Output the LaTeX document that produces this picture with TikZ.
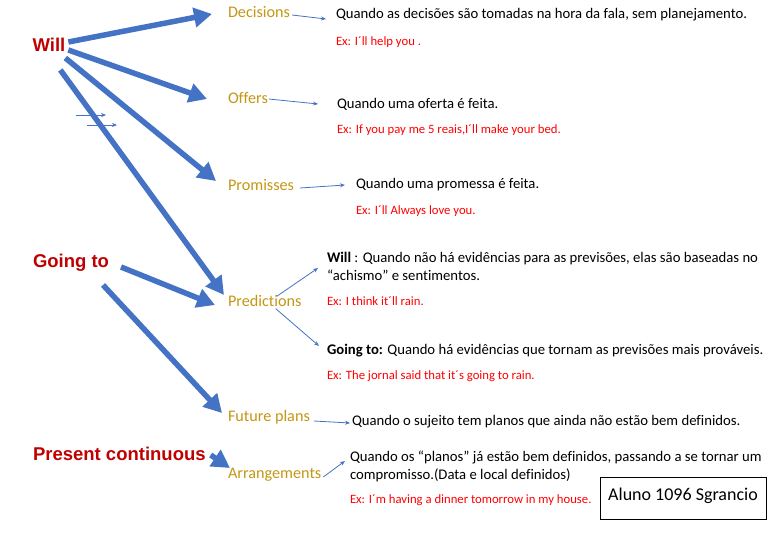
\documentclass[tikz,border=0pt]{standalone}
\usepackage{fontspec}
\setmainfont{Carlito}[Ligatures=NoCommon]
\newfontfamily\arialf{Liberation Sans}
\usetikzlibrary{arrows.meta}
\definecolor{tblue}{RGB}{68,114,196}
\definecolor{tgold}{RGB}{196,150,20}
\definecolor{tdred}{RGB}{192,0,0}
\definecolor{tred}{RGB}{255,0,0}
\begin{document}
\begin{tikzpicture}[x=1pt,y=-1pt,
  every node/.style={inner sep=0pt,outer sep=0pt},
  mainlbl/.style={font=\arialf\bfseries\fontsize{18.5}{20}\selectfont,text=tdred},
  goldlbl/.style={font=\fontsize{16.2}{19}\selectfont,text=tgold,anchor=west},
  desc/.style={font=\fontsize{14.7}{18}\selectfont,text=black,anchor=west,align=left},
  exlbl/.style={font=\fontsize{12.7}{15}\selectfont,text=tred,anchor=west},
  bigarrow/.style={draw=tblue,line width=5.5pt,-{Triangle[length=18pt,width=19pt]}},
  thinarrow/.style={draw=tblue,line width=0.8pt,-{Stealth[length=5pt,width=4pt]}}]
\useasboundingbox (0,0) rectangle (768,543);
% main labels
\node[mainlbl] (will) at (49,45) {Will};
\node[mainlbl,anchor=west] (going) at (33,263) {Going to};
\node[mainlbl,anchor=west] (pres) at (33,454) {Present continuous};
% gold labels
\node[goldlbl] (dec) at (228,12) {Decisions};
\node[goldlbl] (off) at (228,98) {Offers};
\node[goldlbl] (prom) at (228,185) {Promisses};
\node[goldlbl] (pred) at (228,301) {Predictions};
\node[goldlbl] (fut) at (228,417) {Future plans};
\node[goldlbl] (arr) at (228,475) {Arrangements};
% descriptions
\node[desc] (qd) at (336,15) {Quando as decisões são tomadas na hora da fala, sem planejamento.};
\node[exlbl] (exd) at (336,42) {Ex: I´ll help you .};
\node[desc] (qo) at (337,104) {Quando uma oferta é feita.};
\node[exlbl] (exo) at (337,130) {Ex: If you pay me 5 reais,I´ll make your bed.};
\node[desc] (qp) at (356,185) {Quando uma promessa é feita.};
\node[exlbl] (exp) at (356,211) {Ex: I´ll Always love you.};
\node[desc] (qw) at (327,266) {\textbf{Will} : Quando não há evidências para as previsões, elas são baseadas no\\“achismo” e sentimentos.};
\node[exlbl] (exw) at (327,301) {Ex: I think it´ll rain.};
\node[desc] (qg) at (327,351) {\textbf{Going to:} Quando há evidências que tornam as previsões mais prováveis.};
\node[exlbl] (exg) at (327,376) {Ex: The jornal said that it´s going to rain.};
\node[desc] (qf) at (352,422) {Quando o sujeito tem planos que ainda não estão bem definidos.};
\node[desc] (qa) at (350,466) {Quando os “planos” já estão bem definidos, passando a se tornar um\\compromisso.(Data e local definidos)};
\node[exlbl] (exa) at (350,500) {Ex: I´m having a dinner tomorrow in my house.};
% box
\node[draw=black,line width=0.8pt,minimum width=166pt,minimum height=42pt,font=\fontsize{18}{20}\selectfont,text=black] (aluno) at (683,498) {\raisebox{8pt}{Aluno 1096 Sgrancio}};
% big arrows
\draw[bigarrow] ([shift={(3,-3)}]will.east) -- ([shift={(-16,2)}]dec.west);
\draw[bigarrow] ([shift={(3,5)}]will.east) -- ([shift={(-21,1)}]off.west);
\draw[bigarrow] ([shift={(0,13)}]will.east) -- ([shift={(-12,-4)}]prom.west);
\draw[bigarrow] ([shift={(-5,25)}]will.east) -- ([shift={(-4,-6)}]pred.west);
\draw[bigarrow] ([shift={(12,4)}]going.east) -- ([shift={(-13,4)}]pred.west);
\draw[bigarrow] ([shift={(-6,22)}]going.east) -- ([shift={(-6,-4)}]fut.west);
\draw[bigarrow] ([shift={(5,1)}]pres.east) -- ([shift={(2,-7)}]arr.west);
% thin arrows
\draw[thinarrow] ([shift={(2,3)}]dec.east) -- ([shift={(-10,4)}]qd.west);
\draw[thinarrow] ([shift={(1,1)}]off.east) -- ([shift={(-19,0)}]qo.west);
\draw[thinarrow] ([shift={(6,3)}]prom.east) -- ([shift={(-11,0)}]qp.west);
\draw[thinarrow] ([shift={(12,1)}]pred.north) -- ([shift={(-9,2)}]qw.west);
\draw[thinarrow] ([shift={(11,2)}]pred.south) -- ([shift={(-8,-5)}]qg.west);
\draw[thinarrow] ([shift={(4,4)}]fut.east) -- ([shift={(-2,1)}]qf.west);
\draw[thinarrow] ([shift={(2,2)}]arr.east) -- ([shift={(-5,-5)}]qa.west);
% stray small arrows
\coordinate (s1a) at (76,115); \coordinate (s1b) at (106,115);
\coordinate (s2a) at (87,125); \coordinate (s2b) at (117,125);
\draw[thinarrow,line width=0.6pt] (s1a) -- (s1b);
\draw[thinarrow,line width=0.6pt] (s2a) -- (s2b);
\end{tikzpicture}
\end{document}
